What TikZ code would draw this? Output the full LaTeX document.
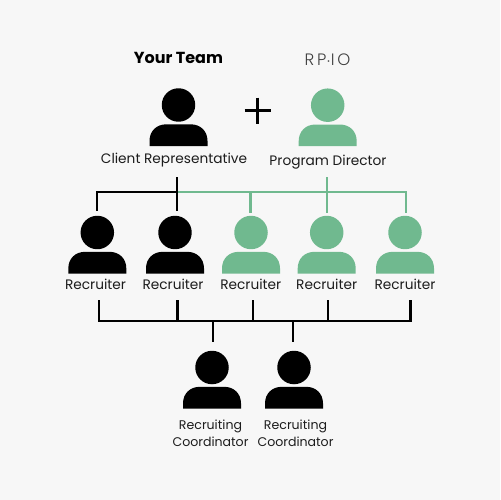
\documentclass[tikz,border=0pt]{standalone}
\usepackage{fontspec}
\usepackage{xcolor}
\setmainfont{Poppins}
\newfontfamily\logofont[LetterSpace=17]{Poppins Light}
\usetikzlibrary{calc}
\definecolor{ColPaper}{RGB}{247,247,247}
\definecolor{ColTeam}{RGB}{0,0,0}
\definecolor{ColFirm}{RGB}{112,185,143}
\definecolor{ColText}{RGB}{28,28,28}

\begin{document}
\begin{tikzpicture}[
  x=0.02cm,
  y=-0.02cm,
  line cap=butt,
  line join=miter,
  every node/.style={font=\fontsize{7.8pt}{9.6pt}\selectfont, text=ColText, inner sep=0pt, align=center},
  link/.style={line width=1.2pt},
  head/.style={circle, minimum size=0.67cm}
]
  \fill[ColPaper] (0,0) rectangle (500,500);
  \useasboundingbox (0,0) rectangle (500,500);

  % Titles
  \node (team) at (178.5,58) {\fontsize{9.1pt}{10pt}\selectfont\bfseries\color{black}Your Team};
  \node (logo) at (327.5,60) {\fontsize{9.4pt}{10pt}\selectfont\logofont\color{black!75}RP$\cdot$IO};

  % Plus sign
  \coordinate (pc) at (257.7,110.7);
  \draw[line width=1.4pt, black] ($(pc)+(-13,0)$) -- ($(pc)+(13,0)$);
  \draw[line width=1.4pt, black] ($(pc)+(0,-13)$) -- ($(pc)+(0,13)$);

  % People
  \foreach \pt/\px/\py/\pcol in {
      cr/178.5/105/ColTeam, pd/327.7/105.2/ColFirm,
      ra/97.3/232.5/ColTeam, rb/175/232.5/ColTeam, rc/251/232.5/ColFirm,
      rd/326.7/232.5/ColFirm, re/405/232.5/ColFirm,
      ca/212/367.5/ColTeam, cb/294/367.5/ColTeam}{
    \node[head, fill=\pcol] (\pt) at (\px,\py) {};
    \fill[\pcol] (\px-29,\py+41) -- (\px-29,\py+36)
      .. controls (\px-29,\py+26) and (\px-22,\py+19.3) .. (\px-12,\py+19.3)
      -- (\px+12,\py+19.3)
      .. controls (\px+22,\py+19.3) and (\px+29,\py+26) .. (\px+29,\py+36)
      -- (\px+29,\py+41) -- cycle;
  }

  % Labels
  \node (crl) at (174,160.5) {Client Representative};
  \node (pdl) at (328,162) {Program Director};
  \foreach \pt/\px in {ra/95.5, rb/173, rc/250.8, rd/326.7, re/405}{
    \node (\pt l) at (\px,284) {Recruiter};
  }
  \node[font=\fontsize{7.15pt}{9.6pt}\selectfont] (cal) at (210.5,433.5) {Recruiting\\Coordinator};
  \node[font=\fontsize{7.15pt}{9.6pt}\selectfont] (cbl) at (295.5,433.5) {Recruiting\\Coordinator};

  % Junctions of the upper tree
  \coordinate (tt)  at (177.3,177);
  \coordinate (tj)  at (177.3,191.7);
  \coordinate (tb)  at (177.3,210.7);
  \coordinate (tl)  at (97.3,191.7);
  \coordinate (tlb) at (97.3,210.7);
  \coordinate (gc)  at (250.5,191.7);
  \coordinate (gcb) at (250.5,213);
  \coordinate (gdt) at (327,177);
  \coordinate (gd)  at (327,191.7);
  \coordinate (gdb) at (327,213);
  \coordinate (ge)  at (406,191.7);
  \coordinate (geb) at (406,213);

  % Upper tree
  \draw[link, ColFirm] (tj) -- (ge) -- (geb);
  \draw[link, ColFirm] (gc) -- (gcb);
  \draw[link, ColFirm] (gdt) -- (gdb);
  \draw[link, black] (tlb) -- (tl) -- (tj);
  \draw[link, black] (tt) -- (tb);

  % Lower tree
  \coordinate (bl) at (98,321);
  \coordinate (br) at (411.5,321);
  \draw[link, black] (bl) -- (br);
  \foreach \px in {99, 177.5, 253, 328, 410.5}{
    \draw[link, black] (\px,300) -- (\px,321);
  }
  \foreach \px in {212.7, 293}{
    \draw[link, black] (\px,321) -- (\px,342);
  }
\end{tikzpicture}
\end{document}
